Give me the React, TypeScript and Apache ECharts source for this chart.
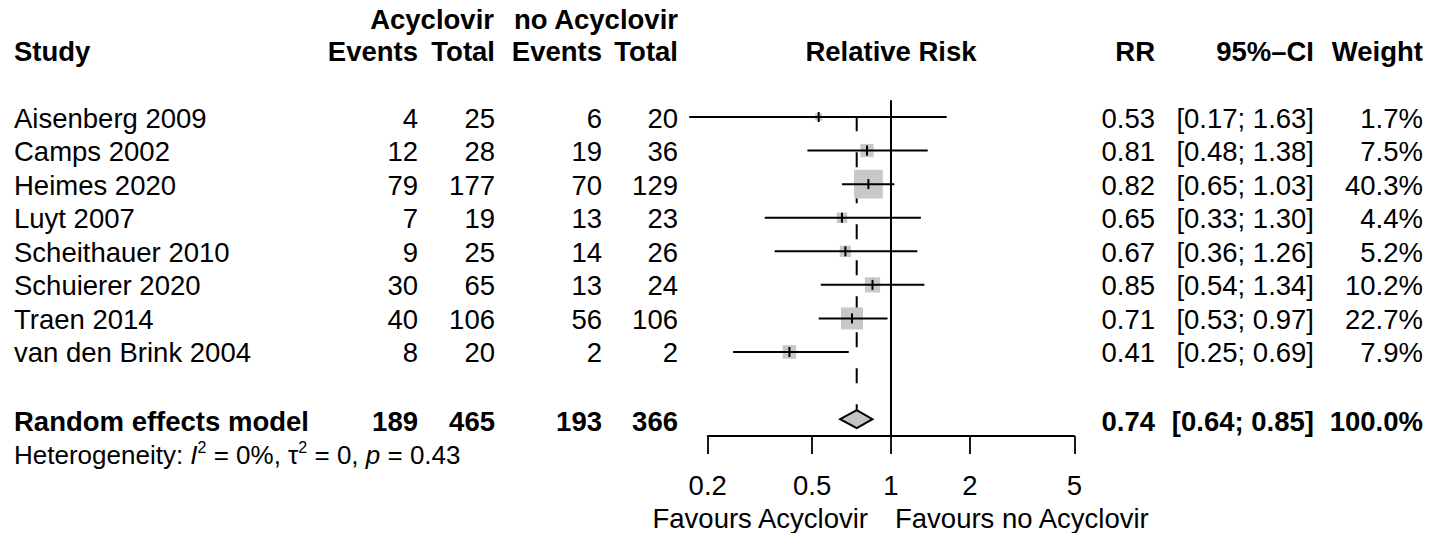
import React, { useEffect, useRef } from "react";
import * as echarts from "echarts";

// ---- data ----
const studies = [
  "Aisenberg 2009",
  "Camps 2002",
  "Heimes 2020",
  "Luyt 2007",
  "Scheithauer 2010",
  "Schuierer 2020",
  "Traen 2014",
  "van den Brink 2004",
];
const eventsAcyclovir = [4, 12, 79, 7, 9, 30, 40, 8];
const totalAcyclovir = [25, 28, 177, 19, 25, 65, 106, 20];
const eventsNoAcyclovir = [6, 19, 70, 13, 14, 13, 56, 2];
const totalNoAcyclovir = [20, 36, 129, 23, 26, 24, 106, 2];
const rrValues = [0.53, 0.81, 0.82, 0.65, 0.67, 0.85, 0.71, 0.41];
const ciLower = [0.17, 0.48, 0.65, 0.33, 0.36, 0.54, 0.53, 0.25];
const ciUpper = [1.63, 1.38, 1.03, 1.3, 1.26, 1.34, 0.97, 0.69];
const weights = [1.7, 7.5, 40.3, 4.4, 5.2, 10.2, 22.7, 7.9];

const pooledLabel = "Random effects model";
const pooledCounts = [189, 465, 193, 366];
const pooledEstimate = [0.74, 0.64, 0.85]; // RR, lower, upper
const pooledWeight = 100.0;
const heterogeneityParts = ["I", "0%", "0", "0.43"]; // I^2, tau^2, p

const xTicks = [0.2, 0.5, 1, 2, 5];
const labelLeft = "Favours Acyclovir";
const labelRight = "Favours no Acyclovir";

// ---- style ----
const FONT = "'Liberation Sans', Arial, Helvetica, sans-serif";
const FS = 27.5;
const ROW0 = 117;
const ROWH = 33.57;
const POOLED_ROW = 9;
const HET_ROW = 10;

const colEventsA = 418;
const colTotalA = 495;
const colEventsN = 602;
const colTotalN = 678;
const colRR = 1155;
const colCI = 1314;
const colW = 1423;

const lg = (v: number) => Math.log10(v);
const f2 = (v: number) => v.toFixed(2);

function txt(x: number, y: number, text: string, align: string, bold = false, size = FS) {
  return {
    type: "text",
    x,
    y,
    style: {
      text,
      fill: "#000",
      fontSize: size,
      fontFamily: FONT,
      fontWeight: bold ? "bold" : "normal",
      align,
      verticalAlign: "middle",
    },
  };
}

export default function App() {
  const ref = useRef<HTMLDivElement>(null);

  useEffect(() => {
    if (!ref.current) return;
    const chart = echarts.init(ref.current, undefined, { renderer: "svg" });

    const studyData = studies.map((_, i) => [
      i,
      lg(rrValues[i]),
      lg(ciLower[i]),
      lg(ciUpper[i]),
      weights[i],
    ]);
    const pooledData = [[POOLED_ROW, lg(pooledEstimate[0]), lg(pooledEstimate[1]), lg(pooledEstimate[2])]];

    const option: any = {
      animation: false,
      backgroundColor: "#fff",
      grid: {
        left: 707.7,
        right: 1429 - 1074.3,
        top: ROW0 - 0.5 * ROWH,
        bottom: 533 - (ROW0 + 9.5 * ROWH),
        containLabel: false,
        outerBoundsMode: "none",
      },
      xAxis: {
        type: "value",
        min: lg(xTicks[0]),
        max: lg(xTicks[xTicks.length - 1]),
        axisLine: { show: true, onZero: false, lineStyle: { color: "#000", width: 1.8 } },
        axisTick: {
          show: true,
          customValues: xTicks.map(lg),
          length: 18,
          lineStyle: { color: "#000", width: 1.8 },
        },
        axisLabel: {
          show: true,
          customValues: xTicks.map(lg),
          showMinLabel: true,
          showMaxLabel: true,
          margin: 36,
          color: "#000",
          fontSize: FS,
          fontFamily: FONT,
          formatter: (v: number) => {
            const t = xTicks.find((k) => Math.abs(lg(k) - v) < 1e-6);
            return t === undefined ? "" : String(t);
          },
        },
        splitLine: { show: false },
      },
      yAxis: {
        type: "value",
        min: -0.5,
        max: 9.5,
        inverse: true,
        show: false,
      },
      series: [
        {
          type: "custom",
          name: "pooled",
          clip: false,
          z: 1,
          data: pooledData,
          encode: { x: [1, 2, 3], y: 0 },
          renderItem: (params: any, api: any) => {
            const row = api.value(0);
            const est = api.value(1);
            const lo = api.value(2);
            const hi = api.value(3);
            const top = api.coord([0, -0.5])[1];
            const bottom = api.coord([0, 9.5])[1];
            const y = api.coord([0, row])[1];
            const xRef = api.coord([0, row])[0];
            const xE = api.coord([est, row])[0];
            const xL = api.coord([lo, row])[0];
            const xH = api.coord([hi, row])[0];
            const hh = 9;
            const ty = y + 2;
            const hy = api.coord([0, HET_ROW])[1] + 2;
            return {
              type: "group",
              children: [
                {
                  type: "line",
                  shape: { x1: xRef, y1: top, x2: xRef, y2: bottom },
                  style: { stroke: "#000", lineWidth: 2 },
                },
                {
                  type: "line",
                  shape: { x1: xE, y1: top, x2: xE, y2: y - hh },
                  style: { stroke: "#000", lineWidth: 2, lineDash: [15, 21], lineDashOffset: 20 },
                },
                {
                  type: "polygon",
                  shape: {
                    points: [
                      [xL, y],
                      [xE, y - hh],
                      [xH, y],
                      [xE, y + hh],
                    ],
                  },
                  style: { fill: "#c4c4c4", stroke: "#000", lineWidth: 2 },
                },
                txt(14, ty, pooledLabel, "left", true),
                txt(colEventsA, ty, String(pooledCounts[0]), "right", true),
                txt(colTotalA, ty, String(pooledCounts[1]), "right", true),
                txt(colEventsN, ty, String(pooledCounts[2]), "right", true),
                txt(colTotalN, ty, String(pooledCounts[3]), "right", true),
                txt(colRR, ty, f2(pooledEstimate[0]), "right", true),
                txt(colCI, ty, `[${f2(pooledEstimate[1])}; ${f2(pooledEstimate[2])}]`, "right", true),
                txt(colW, ty, `${pooledWeight.toFixed(1)}%`, "right", true),
                {
                  type: "text",
                  x: 14,
                  y: hy,
                  style: {
                    text: `{n|Heterogeneity: }{i|${heterogeneityParts[0]}}{s|2}{n| = ${heterogeneityParts[1]}, τ}{s|2}{n| = ${heterogeneityParts[2]}, }{i|p}{n| = ${heterogeneityParts[3]}}`,
                    verticalAlign: "middle",
                    align: "left",
                    rich: {
                      n: { fontSize: 26, fontFamily: FONT, fill: "#000", lineHeight: 30, verticalAlign: "middle" },
                      i: { fontSize: 26, fontFamily: FONT, fontStyle: "italic", fill: "#000", lineHeight: 30, verticalAlign: "middle" },
                      s: { fontSize: 16, fontFamily: FONT, fill: "#000", lineHeight: 10, verticalAlign: "top" },
                    },
                  },
                },
              ],
            };
          },
        },
        {
          type: "custom",
          name: "studies",
          clip: false,
          z: 2,
          data: studyData,
          encode: { x: [1, 2, 3], y: 0 },
          renderItem: (params: any, api: any) => {
            const idx = params.dataIndex;
            const row = api.value(0);
            const y = api.coord([0, row])[1];
            const xE = api.coord([api.value(1), row])[0];
            const xL = api.coord([api.value(2), row])[0];
            const xH = api.coord([api.value(3), row])[0];
            const size = 4.3 * Math.sqrt(api.value(4)) + 1.5;
            const ty = y + 1;
            return {
              type: "group",
              children: [
                {
                  type: "rect",
                  shape: { x: xE - size / 2, y: y - size / 2, width: size, height: size },
                  style: { fill: "#c8c8c8" },
                },
                {
                  type: "line",
                  shape: { x1: xL, y1: y, x2: xH, y2: y },
                  style: { stroke: "#000", lineWidth: 2 },
                },
                {
                  type: "rect",
                  shape: { x: xE - 1, y: y - 5, width: 2, height: 10 },
                  style: { fill: "#000" },
                },
                txt(14, ty, studies[idx], "left"),
                txt(colEventsA, ty, String(eventsAcyclovir[idx]), "right"),
                txt(colTotalA, ty, String(totalAcyclovir[idx]), "right"),
                txt(colEventsN, ty, String(eventsNoAcyclovir[idx]), "right"),
                txt(colTotalN, ty, String(totalNoAcyclovir[idx]), "right"),
                txt(colRR, ty, f2(rrValues[idx]), "right"),
                txt(colCI, ty, `[${f2(ciLower[idx])}; ${f2(ciUpper[idx])}]`, "right"),
                txt(colW, ty, `${weights[idx].toFixed(1)}%`, "right"),
              ],
            };
          },
        },
      ],
      graphic: [
        txt(494, 19, "Acyclovir", "right", true),
        txt(colTotalN, 19, "no Acyclovir", "right", true),
        txt(14, 51, "Study", "left", true),
        txt(colEventsA, 51, "Events", "right", true),
        txt(colTotalA, 51, "Total", "right", true),
        txt(colEventsN, 51, "Events", "right", true),
        txt(colTotalN, 51, "Total", "right", true),
        txt(891, 51, "Relative Risk", "center", true),
        txt(colRR, 51, "RR", "right", true),
        txt(colCI, 51, "95%–CI", "right", true),
        txt(colW, 51, "Weight", "right", true),
        txt(868, 518, labelLeft, "right"),
        txt(895, 518, labelRight, "left"),
      ],
    };

    chart.setOption(option);
    return () => chart.dispose();
  }, []);

  return (
    <div
      ref={ref}
      style={{ position: "fixed", left: 0, top: 0, width: 1429, height: 533, background: "#fff" }}
    />
  );
}
